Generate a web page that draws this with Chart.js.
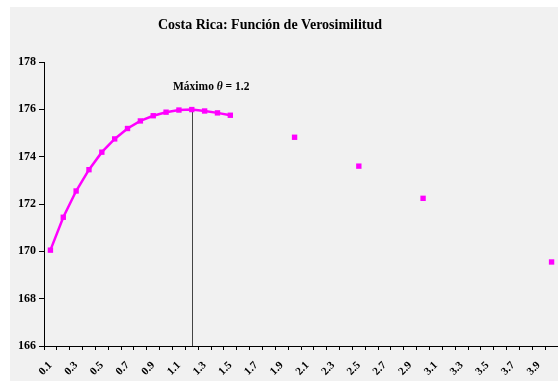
<!DOCTYPE html>
<html>
<head>
<meta charset="utf-8">
<script src="https://cdn.jsdelivr.net/npm/chart.js@4/dist/chart.umd.min.js"></script>
<style>
html,body{margin:0;padding:0;background:#fff;}
#wrap{width:558px;height:381px;position:relative;}
</style>
</head>
<body>
<div id="wrap"><canvas id="c" width="558" height="381"></canvas></div>
<script>
const categories = ['0.1','0.2','0.3','0.4','0.5','0.6','0.7','0.8','0.9','1.0',
                    '1.1','1.2','1.3','1.4','1.5','1.6','1.7','1.8','1.9','2.0',
                    '2.1','2.2','2.3','2.4','2.5','2.6','2.7','2.8','2.9','3.0',
                    '3.1','3.2','3.3','3.4','3.5','3.6','3.7','3.8','3.9','4.0'];
const likelihood = [170.05,171.44,172.55,173.45,174.19,174.75,175.19,175.51,175.73,175.88,
                    175.97,175.99,175.93,175.85,175.75,null,null,null,null,174.82,
                    null,null,null,null,173.60,null,null,null,null,172.24,
                    null,null,null,null,null,null,null,null,null,169.55];
const yTicks = [166,168,170,172,174,176,178];
const maxTheta = '1.2';
const maxValue = 176;
const titleText = 'Costa Rica: Función de Verosimilitud';

const FONT = "'Liberation Serif','Times New Roman',serif";

const bgPlugin = {
  id: 'bg',
  beforeDraw(chart) {
    const ctx = chart.ctx;
    ctx.save();
    ctx.fillStyle = '#ffffff';
    ctx.fillRect(0, 0, chart.width, chart.height);
    ctx.fillStyle = '#f1f1f1';
    ctx.fillRect(10, 7, chart.width - 10, chart.height - 7);
    ctx.restore();
  }
};

const annPlugin = {
  id: 'ann',
  beforeDatasetsDraw(chart) {
    const ctx = chart.ctx;
    const xs = chart.scales.x, ys = chart.scales.y;
    const x = Math.round(xs.getPixelForValue(categories.indexOf(maxTheta))) + 0.5;
    ctx.save();
    ctx.strokeStyle = '#444';
    ctx.lineWidth = 1;
    ctx.beginPath();
    ctx.moveTo(x, ys.getPixelForValue(maxValue));
    ctx.lineTo(x, ys.getPixelForValue(166));
    ctx.stroke();
    ctx.restore();
  },
  afterDraw(chart) {
    const ctx = chart.ctx;
    ctx.save();
    ctx.fillStyle = '#000';
    ctx.textBaseline = 'middle';
    ctx.textAlign = 'center';
    ctx.font = "bold 14px " + FONT;
    ctx.fillText(titleText, 270, 25);
    const parts = [
      {t: 'Máximo ', f: "bold 11.5px " + FONT},
      {t: 'θ', f: "italic bold 11.5px " + FONT},
      {t: ' = 1.2', f: "bold 11.5px " + FONT}
    ];
    ctx.textAlign = 'left';
    let x = 173;
    for (const p of parts) {
      ctx.font = p.f;
      ctx.fillText(p.t, x, 87);
      x += ctx.measureText(p.t).width;
    }
    ctx.restore();
  }
};

new Chart(document.getElementById('c'), {
  type: 'line',
  data: {
    labels: categories,
    datasets: [{
      data: likelihood,
      borderColor: '#ff00ff',
      backgroundColor: '#ff00ff',
      borderWidth: 2.5,
      pointStyle: 'rect',
      pointRadius: 3.8,
      pointHoverRadius: 3.8,
      pointBorderWidth: 0,
      spanGaps: false,
      tension: 0,
      clip: false
    }]
  },
  options: {
    responsive: false,
    animation: false,
    events: [],
    layout: {autoPadding: false, padding: {left: 0, right: 0, top: 62, bottom: 0}},
    plugins: {legend: {display: false}, title: {display: false}, tooltip: {enabled: false}},
    scales: {
      x: {
        type: 'category',
        offset: true,
        grid: {offset: true, drawOnChartArea: false, drawTicks: true, tickLength: 4, color: '#000', lineWidth: 1},
        border: {color: '#000', width: 1},
        ticks: {
          autoSkip: false, maxRotation: 45, minRotation: 45,
          color: '#000', padding: 9,
          font: {family: FONT, size: 11, weight: 'bold'},
          callback: (v, i) => (i % 2 === 0 ? categories[i] : '')
        },
        afterFit(s) { s.height = 35; s.paddingRight = 0; s.paddingLeft = 0; }
      },
      y: {
        min: yTicks[0], max: yTicks[yTicks.length - 1],
        afterBuildTicks(s) { s.ticks = yTicks.map(v => ({value: v})); },
        grid: {drawOnChartArea: false, drawTicks: true, tickLength: 5, color: '#000'},
        border: {color: '#000', width: 1},
        ticks: {color: '#000', padding: 3, font: {family: FONT, size: 12, weight: 'bold'}},
        afterFit(s) { s.width = 44; }
      }
    }
  },
  plugins: [bgPlugin, annPlugin]
});
</script>
</body>
</html>
